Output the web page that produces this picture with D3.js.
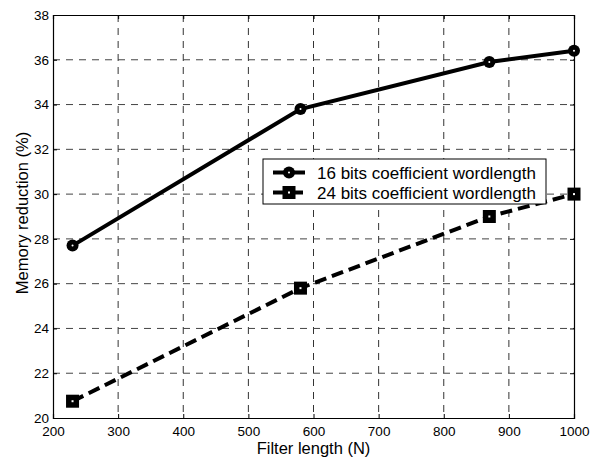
<!DOCTYPE html>
<html><head><meta charset="utf-8">
<script src="https://cdn.jsdelivr.net/npm/d3@7/dist/d3.min.js"></script>
<style>body{margin:0;background:#fff}svg{display:block}text{font-family:"Liberation Sans",Arial,sans-serif}</style>
</head><body>
<script>
const filterLen = [230, 580, 870, 1000];
const bits16 = [27.7, 33.8, 35.9, 36.4];
const bits24 = [20.75, 25.8, 29.0, 30.0];
const xTicks = [200,300,400,500,600,700,800,900,1000];
const yTicks = [20,22,24,26,28,30,32,34,36,38];
const seriesNames = ["16 bits coefficient wordlength","24 bits coefficient wordlength"];

const W=596,H=457;
const m={l:53,r:574,t:15,b:418};
const svg=d3.select("body").append("svg").attr("width",W).attr("height",H);
const x=d3.scaleLinear().domain([200,1000]).range([m.l,m.r]);
const y=d3.scaleLinear().domain([20,38]).range([m.b,m.t]);

// grid
const g=svg.append("g");
g.selectAll(".vg").data(xTicks.slice(1,-1)).enter().append("line")
 .attr("x1",d=>x(d)).attr("x2",d=>x(d)).attr("y1",m.t).attr("y2",m.b)
 .attr("stroke","#333").attr("stroke-width",1).attr("stroke-dasharray","7,6");
g.selectAll(".hg").data(yTicks.slice(1,-1)).enter().append("line")
 .attr("y1",d=>y(d)).attr("y2",d=>y(d)).attr("x1",m.l).attr("x2",m.r)
 .attr("stroke","#444").attr("stroke-width",1).attr("stroke-dasharray","7,6");

// axes
const xa=svg.append("g").attr("transform",`translate(0,${m.b})`)
 .call(d3.axisBottom(x).tickValues(xTicks).tickSize(-4).tickPadding(8).tickFormat(d3.format("d")));
const ya=svg.append("g").attr("transform",`translate(${m.l},0)`)
 .call(d3.axisLeft(y).tickValues(yTicks).tickSize(-4).tickPadding(4).tickFormat(d3.format("d")));
svg.append("g").attr("transform",`translate(0,${m.t})`)
 .call(d3.axisTop(x).tickValues(xTicks).tickSize(-4).tickFormat(""));
svg.append("g").attr("transform",`translate(${m.r},0)`)
 .call(d3.axisRight(y).tickValues(yTicks).tickSize(-4).tickFormat(""));
svg.selectAll(".domain").attr("stroke","#000").attr("stroke-width",1.2);
svg.selectAll(".tick line").attr("stroke","#000");
svg.selectAll(".tick text").attr("font-size",13.5).attr("fill","#000")
 .attr("font-family","'Liberation Sans',Arial,sans-serif");

// labels
svg.append("text").attr("x",(m.l+m.r)/2).attr("y",453.5).attr("text-anchor","middle")
 .attr("font-size",16.5).text("Filter length (N)");
svg.append("text").attr("transform",`translate(28,213) rotate(-90)`)
 .attr("text-anchor","middle").attr("font-size",16.5).text("Memory reduction (%)");

const d16=filterLen.map((v,i)=>[v,bits16[i]]);
const d24=filterLen.map((v,i)=>[v,bits24[i]]);
const line=d3.line().x(d=>x(d[0])).y(d=>y(d[1]));
svg.append("path").datum(d16).attr("d",line).attr("fill","none").attr("stroke","#000").attr("stroke-width",4);
svg.append("path").datum(d24).attr("d",line).attr("fill","none").attr("stroke","#000").attr("stroke-width",4).attr("stroke-dasharray","12,6");

function circ(sel,cx,cy){sel.append("circle").attr("cx",cx).attr("cy",cy).attr("r",6).attr("fill","#000");
 sel.append("circle").attr("cx",cx).attr("cy",cy).attr("r",1).attr("fill","#fff");}
function sq(sel,cx,cy){sel.append("rect").attr("x",cx-6.5).attr("y",cy-6.5).attr("width",13).attr("height",13).attr("fill","#000");
 sel.append("rect").attr("x",cx-1).attr("y",cy-1).attr("width",2).attr("height",2).attr("fill","#fff");}
d16.forEach(d=>circ(svg,x(d[0]),y(d[1])));
d24.forEach(d=>sq(svg,x(d[0]),y(d[1])));

// legend
const lg=svg.append("g");
lg.append("rect").attr("x",263).attr("y",159).attr("width",283).attr("height",45).attr("fill","#fff").attr("stroke","#000").attr("stroke-width",1);
[0,1].forEach(i=>{
  const cy=172.5+i*20;
  lg.append("line").attr("x1",273).attr("x2",305).attr("y1",cy).attr("y2",cy).attr("stroke","#000").attr("stroke-width",4)
   .attr("stroke-dasharray",i?"12,6":null);
  if(i===0) circ(lg,289,cy); else sq(lg,289,cy);
  lg.append("text").attr("x",317).attr("y",cy+6).attr("font-size",17).text(seriesNames[i]);
});
</script>
</body></html>
